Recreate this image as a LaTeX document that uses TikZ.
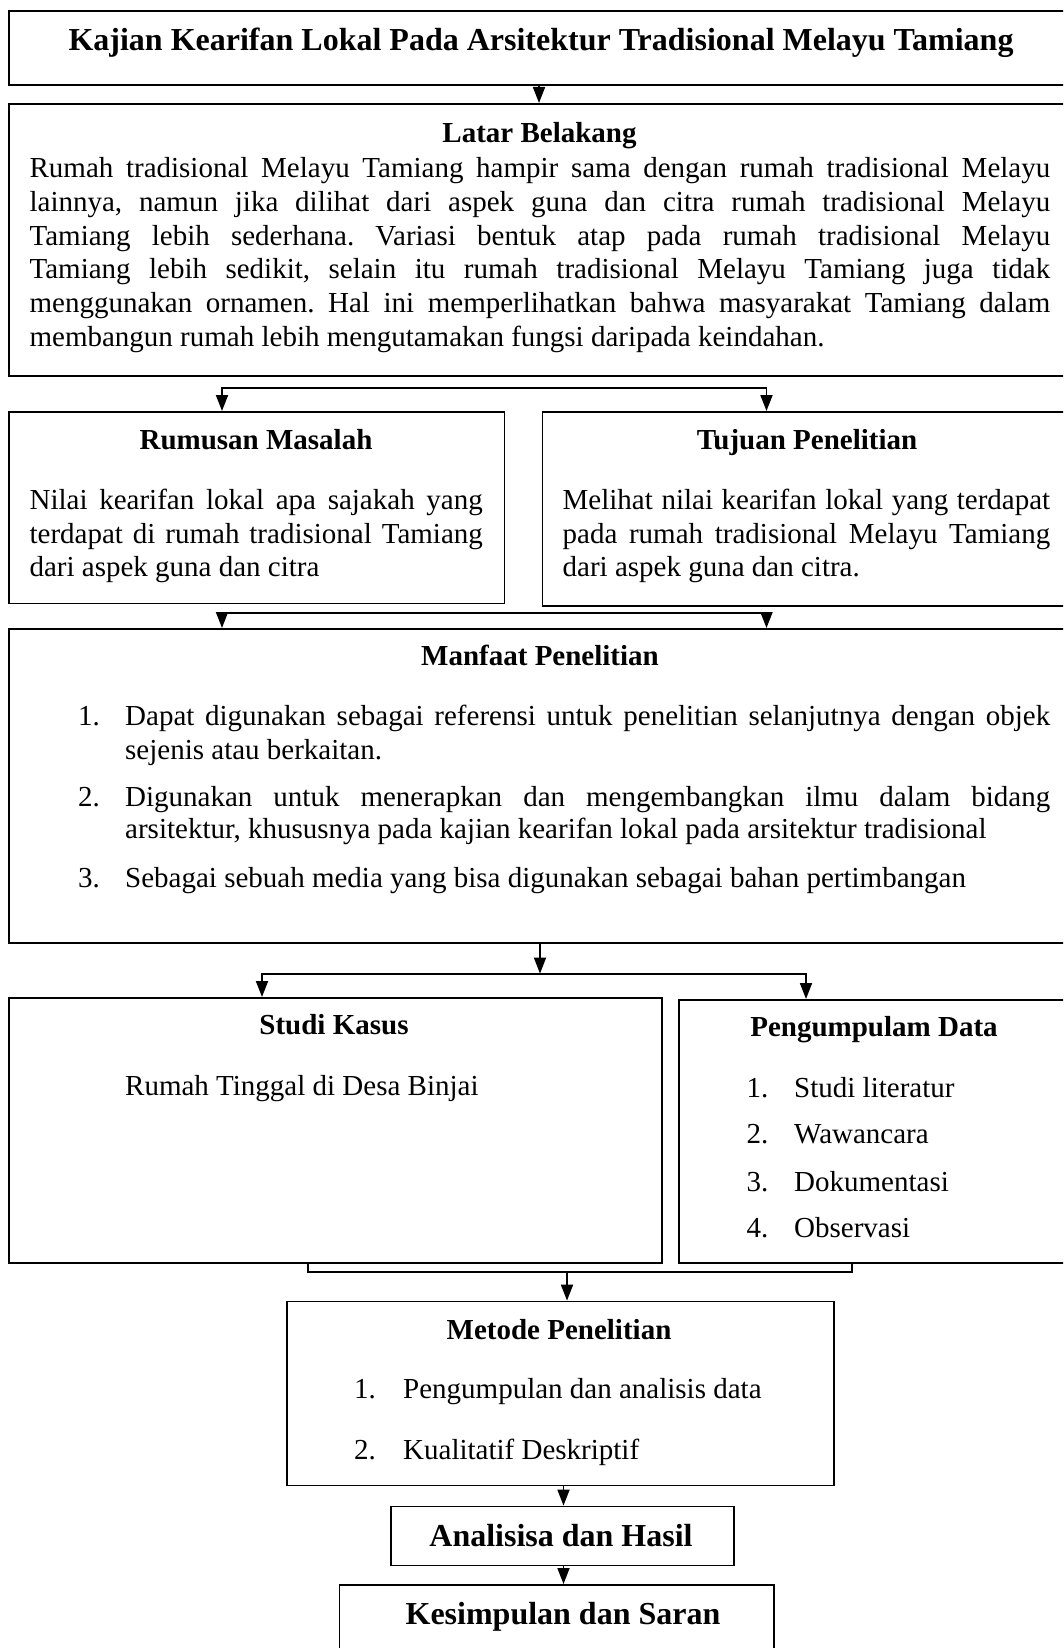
\documentclass[tikz,border=0pt]{standalone}
\usepackage{fontspec}
\setmainfont{Liberation Serif}
\usetikzlibrary{arrows.meta}
\frenchspacing
\tikzset{
  box/.style={draw, line width=1.8pt, rectangle, inner sep=0pt, anchor=north west},
  txt/.style={inner sep=0pt, anchor=base west, font=\fontsize{29}{33.6}\selectfont},
  ttl/.style={inner sep=0pt, anchor=base, font=\fontsize{29}{33.6}\selectfont\bfseries},
  big/.style={inner sep=0pt, anchor=base, font=\fontsize{32}{36}\selectfont\bfseries},
  conn/.style={line width=1.8pt},
  tip/.tip={Triangle[length=16pt,width=12pt]},
  arr/.style={line width=1.8pt, -tip},
  arr2/.style={line width=1.8pt, tip-tip}
}
\newcommand\jl[2]{\hbox to #1pt{#2}}
\begin{document}
\begin{tikzpicture}[x=1pt,y=-1pt]
\useasboundingbox (0,0) rectangle (1063,1648);
\clip (0,0) rectangle (1063,1648);
% boxes
\node[box, minimum width=1071.6pt, minimum height=73.6pt] (title) at (8.4,10.5) {};
\node[box, minimum width=1071.6pt, minimum height=272pt] (latar) at (8.4,103) {};
\node[box, minimum width=495.2pt, minimum height=191.5pt] (rumusan) at (8.4,411) {};
\node[box, minimum width=540pt, minimum height=194pt] (tujuan) at (541.5,411) {};
\node[box, minimum width=1071.6pt, minimum height=314pt] (manfaat) at (8.4,628) {};
\node[box, minimum width=652.6pt, minimum height=265pt] (studi) at (8.4,997) {};
\node[box, minimum width=402pt, minimum height=263pt] (pengum) at (678,999) {};
\node[box, minimum width=546.7pt, minimum height=184pt] (metode) at (286,1300.6) {};
\node[box, minimum width=343pt, minimum height=59pt] (analisis) at (390,1505.6) {};
\node[box, minimum width=434.5pt, minimum height=100pt] (kesimp) at (338.5,1584) {};
% texts
\node[big] (t0) at (541,50.5) {Kajian Kearifan Lokal Pada Arsitektur Tradisional Melayu Tamiang};
\node[ttl] (lbt) at (539.5,142.5) {Latar Belakang};
\node[txt] (lb1) at (29.4,178) {\jl{1020.6}{Rumah tradisional Melayu Tamiang hampir sama dengan rumah tradisional Melayu}};
\node[txt] (lb2) at (29.4,211.6) {\jl{1020.6}{lainnya, namun jika dilihat dari aspek guna dan citra rumah tradisional Melayu}};
\node[txt] (lb3) at (29.4,245.2) {\jl{1020.6}{Tamiang lebih sederhana. Variasi bentuk atap pada rumah tradisional Melayu}};
\node[txt] (lb4) at (29.4,278.8) {\jl{1020.6}{Tamiang lebih sedikit, selain itu rumah tradisional Melayu Tamiang juga tidak}};
\node[txt] (lb5) at (29.4,312.4) {\jl{1020.6}{menggunakan ornamen. Hal ini memperlihatkan bahwa masyarakat Tamiang dalam}};
\node[txt] (lb6) at (29.4,346) {membangun rumah lebih mengutamakan fungsi daripada keindahan.};
\node[ttl] (rmt) at (256,449.5) {Rumusan Masalah};
\node[txt] (rm1) at (29.4,509.5) {\jl{453.2}{Nilai kearifan lokal apa sajakah yang}};
\node[txt] (rm2) at (29.4,543.1) {\jl{453.2}{terdapat di rumah tradisional Tamiang}};
\node[txt] (rm3) at (29.4,576.7) {dari aspek guna dan citra};
\node[ttl] (tjt) at (807,449.5) {Tujuan Penelitian};
\node[txt] (tj1) at (562.5,509.5) {\jl{487.5}{Melihat nilai kearifan lokal yang terdapat}};
\node[txt] (tj2) at (562.5,543.1) {\jl{487.5}{pada rumah tradisional Melayu Tamiang}};
\node[txt] (tj3) at (562.5,576.7) {dari aspek guna dan citra.};
\node[ttl] (mft) at (540,665) {Manfaat Penelitian};
\node[txt] (mn1) at (77.8,725) {1.};
\node[txt] (mf1a) at (125,725) {\jl{925}{Dapat digunakan sebagai referensi untuk penelitian selanjutnya dengan objek}};
\node[txt] (mf1b) at (125,759) {sejenis atau berkaitan.};
\node[txt] (mn2) at (77.8,806) {2.};
\node[txt] (mf2a) at (125,806) {\jl{925}{Digunakan untuk menerapkan dan mengembangkan ilmu dalam bidang}};
\node[txt] (mf2b) at (125,838.5) {arsitektur, khususnya pada kajian kearifan lokal pada arsitektur tradisional};
\node[txt] (mn3) at (77.8,887) {3.};
\node[txt] (mf3) at (125,887) {Sebagai sebuah media yang bisa digunakan sebagai bahan pertimbangan};
\node[ttl] (skt) at (334,1034) {Studi Kasus};
\node[txt] (sk1) at (125,1095) {Rumah Tinggal di Desa Binjai};
\node[ttl] (pdt) at (874,1036) {Pengumpulam Data};
\node[txt] (pn1) at (746.5,1097) {1.};
\node[txt] (pd1) at (794,1097) {Studi literatur};
\node[txt] (pn2) at (746.5,1143.5) {2.};
\node[txt] (pd2) at (794,1143.5) {Wawancara};
\node[txt] (pn3) at (746.5,1191) {3.};
\node[txt] (pd3) at (794,1191) {Dokumentasi};
\node[txt] (pn4) at (746.5,1237) {4.};
\node[txt] (pd4) at (794,1237) {Observasi};
\node[ttl] (mtt) at (559,1339) {Metode Penelitian};
\node[txt] (mtn1) at (354,1398) {1.};
\node[txt] (mt1) at (403,1398) {Pengumpulan dan analisis data};
\node[txt] (mtn2) at (354,1459) {2.};
\node[txt] (mt2) at (403,1459) {Kualitatif Deskriptif};
\node[big] (ant) at (561,1546) {Analisisa dan Hasil};
\node[big] (kst) at (563,1624) {Kesimpulan dan Saran};
% connector coordinates
\coordinate (xa) at (539,0);
\coordinate (s1l) at (222,388);
\coordinate (s1r) at (766.5,388);
\coordinate (s2l) at (222,613);
\coordinate (s2r) at (766.5,613);
\coordinate (xm) at (540,973.6);
\coordinate (s3l) at (262,973.6);
\coordinate (s3r) at (806,973.6);
\coordinate (b1) at (308,1272);
\coordinate (b2) at (851.6,1272);
\coordinate (bm) at (567,1272);
\coordinate (xb) at (563.5,0);
% connectors
\draw[arr] (title.south -| xa) -- (latar.north -| xa);
\draw[arr2] (rumusan.north -| s1l) -- (s1l) -- (s1r) -- (tujuan.north -| s1r);
\draw[arr2] (manfaat.north -| s2l) -- (s2l) -- (s2r) -- (manfaat.north -| s2r);
\draw[arr] (manfaat.south -| xm) -- (xm);
\draw[arr2] (studi.north -| s3l) -- (s3l) -- (s3r) -- (pengum.north -| s3r);
\draw[conn] (studi.south -| b1) -- (b1) -- (b2) -- (pengum.south -| b2);
\draw[arr] (bm) -- (metode.north -| bm);
\draw[arr] (metode.south -| xb) -- (analisis.north -| xb);
\draw[arr] (analisis.south -| xb) -- (kesimp.north -| xb);
\end{tikzpicture}
\end{document}
